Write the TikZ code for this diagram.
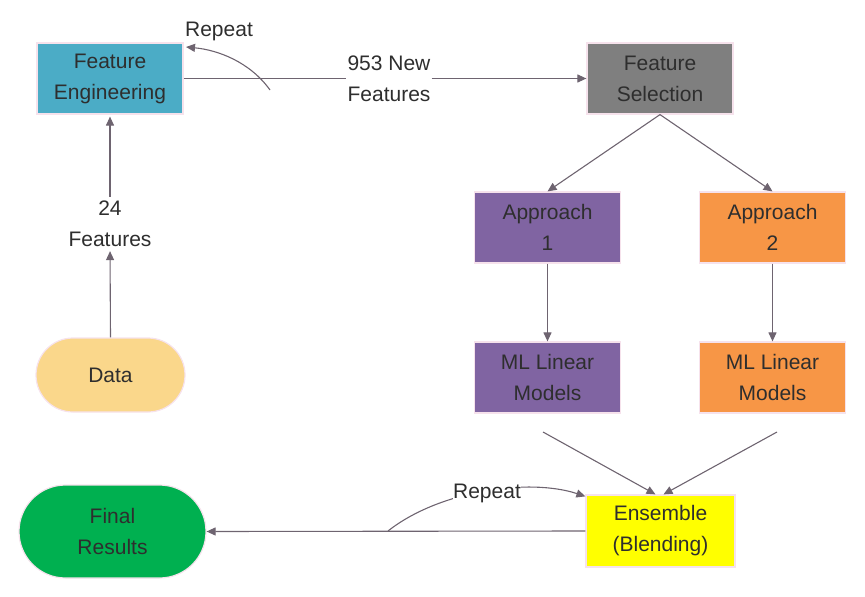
\documentclass[tikz,border=0pt]{standalone}
\usepackage{fontspec}
\setmainfont{Liberation Sans}
\usetikzlibrary{arrows.meta,shapes.misc}
\definecolor{teal1}{HTML}{4BACC6}
\definecolor{gray1}{HTML}{7F7F7F}
\definecolor{purp1}{HTML}{8064A2}
\definecolor{orng1}{HTML}{F79646}
\definecolor{yell1}{HTML}{FFFF00}
\definecolor{sand1}{HTML}{FAD78B}
\definecolor{green1}{HTML}{00B050}
\definecolor{edge1}{HTML}{6E6470}
\definecolor{txt1}{HTML}{2E2E2E}
\definecolor{glow1}{HTML}{F6E2EC}
\tikzset{
  boxnode/.style={rectangle, draw=glow1, line width=1.2pt, minimum width=146pt, minimum height=71pt, inner sep=0pt, align=center, text=txt1, font=\fontsize{21}{31}\selectfont},
  pillnode/.style={rounded rectangle, draw=glow1, line width=1.2pt, inner sep=0pt, align=center, text=txt1, font=\fontsize{21}{31}\selectfont},
  lbl/.style={fill=white, inner sep=1pt, align=center, text=txt1, font=\fontsize{21}{31}\selectfont},
  conn/.style={draw=edge1, line width=1.1pt, -{Triangle[length=9pt,width=8pt]}},
  plain/.style={draw=edge1, line width=1.1pt}
}
\begin{document}
\begin{tikzpicture}[x=1pt,y=-1pt]
\useasboundingbox (0,0) rectangle (865,597);
% nodes
\node[boxnode, fill=teal1] (fe) at (110,78.5) {Feature\\Engineering};
\node[boxnode, fill=gray1] (fs) at (660,78.5) {Feature\\Selection};
\node[boxnode, fill=purp1] (a1) at (547.5,227.5) {Approach\\1};
\node[boxnode, fill=orng1] (a2) at (772.5,227.5) {Approach\\2};
\node[boxnode, fill=purp1] (m1) at (547.5,377.5) {ML Linear\\Models};
\node[boxnode, fill=orng1] (m2) at (772.5,377.5) {ML Linear\\Models};
\node[boxnode, fill=yell1, minimum width=149pt, minimum height=72pt] (en) at (660.5,531) {Ensemble\\(Blending)};
\node[pillnode, fill=sand1, minimum width=149pt, minimum height=74pt] (data) at (110.5,375) {Data};
\node[pillnode, fill=green1, minimum width=187pt, minimum height=93pt] (fin) at (112.5,531.5) {Final\\Results};
% labels
\node[lbl] (l24) at (110,224) {24\\Features};
\node[lbl] (l953) at (389,78.5) {953 New\\Features};
% connectors
\draw[conn, shorten >=3pt] (data.north) -- (l24.south);
\draw[conn, shorten <=3pt, shorten >=2pt] (l24.north) -- (fe.south);
\draw[plain] (fe.east) -- (l953.west);
\draw[conn] (l953.east) -- (fs.west);
\coordinate (r1) at (270,90);
\draw[conn] (r1) .. controls (250,62) and (218,50) .. (186,47);
\node[text=txt1, font=\fontsize{21}{31}\selectfont, inner sep=0pt] (rep1) at (219,31) {Repeat};
\draw[conn] (fs.south) -- (a1.north);
\draw[conn] (fs.south) -- (a2.north);
\draw[conn] (a1.south) -- (m1.north);
\draw[conn] (a2.south) -- (m2.north);
\coordinate (s1) at (543,432);
\coordinate (s2) at (777,432);
\draw[conn] (s1) -- ([xshift=-5pt]en.north);
\draw[conn] (s2) -- ([xshift=3pt]en.north);
\draw[conn] (en.west) -- (fin.east);
\coordinate (r2) at (388,531);
\draw[conn] (r2) .. controls (440,490) and (530,478) .. ([yshift=-2pt]en.north west);
\node[lbl, inner sep=0pt] (rep2) at (487,493) {Repeat};
\end{tikzpicture}
\end{document}
